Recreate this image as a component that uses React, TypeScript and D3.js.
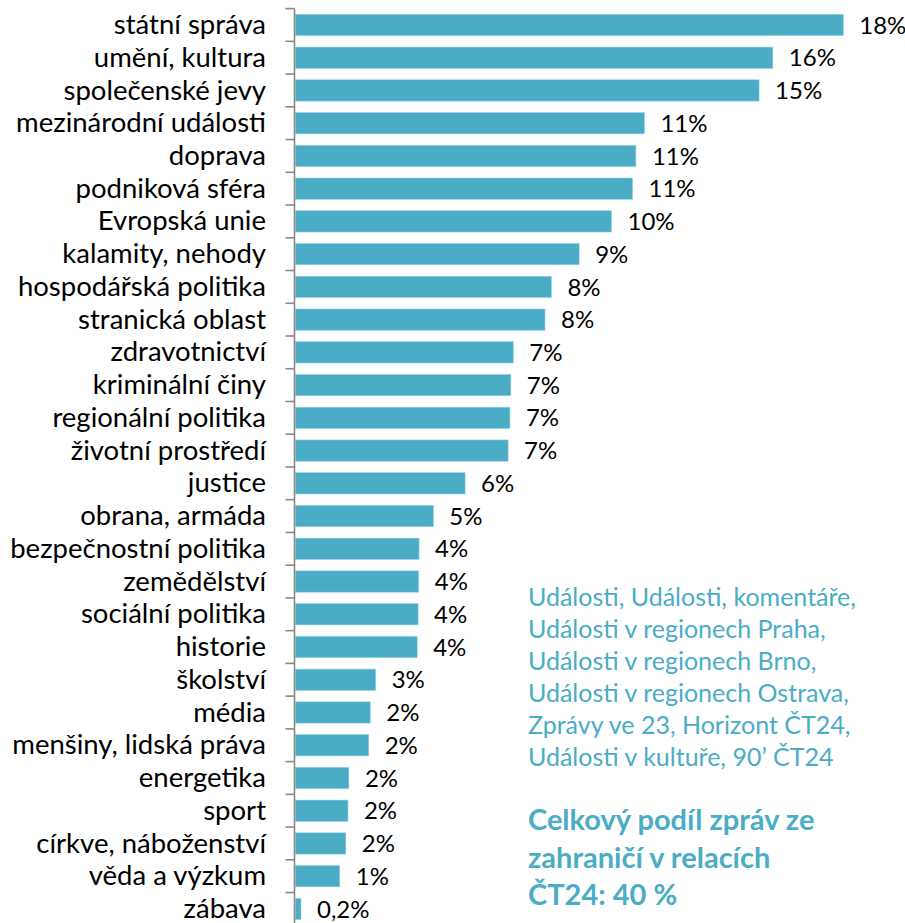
import React, { useEffect, useRef } from 'react';
import * as d3 from 'd3';

// categories, top to bottom
const categories = [
  'státní správa',
  'umění, kultura',
  'společenské jevy',
  'mezinárodní události',
  'doprava',
  'podniková sféra',
  'Evropská unie',
  'kalamity, nehody',
  'hospodářská politika',
  'stranická oblast',
  'zdravotnictví',
  'kriminální činy',
  'regionální politika',
  'životní prostředí',
  'justice',
  'obrana, armáda',
  'bezpečnostní politika',
  'zemědělství',
  'sociální politika',
  'historie',
  'školství',
  'média',
  'menšiny, lidská práva',
  'energetika',
  'sport',
  'církve, náboženství',
  'věda a výzkum',
  'zábava',
];

// share in %
const shares = [
  17.96, 15.65, 15.2, 11.44, 11.16, 11.05, 10.36, 9.3, 8.39, 8.18,
  7.14, 7.06, 7.03, 6.97, 5.56, 4.52, 4.05, 4.04, 4.02, 3.99,
  2.63, 2.45, 2.4, 1.75, 1.72, 1.65, 1.45, 0.18,
];

const programmes = [
  'Události, Události, komentáře,',
  'Události v regionech Praha,',
  'Události v regionech Brno,',
  'Události v regionech Ostrava,',
  'Zprávy ve 23, Horizont ČT24,',
  'Události v kultuře, 90’ ČT24',
];

const summary = ['Celkový podíl zpráv ze', 'zahraničí v relacích', 'ČT24: 40 %'];

const formatShare = (v: number) =>
  v < 1 ? `${v.toFixed(1).replace('.', ',')}%` : `${Math.round(v)}%`;

const App: React.FC = () => {
  const svgRef = useRef<SVGSVGElement>(null);

  useEffect(() => {
    if (!svgRef.current) return;
    const svg = d3.select(svgRef.current);
    svg.selectAll('*').remove();

    const W = 905;
    const H = 923;
    const font = 'Lato, "Open Sans", sans-serif';
    const blue = '#4bacc6';

    svg.attr('width', W).attr('height', H);

    const x = d3.scaleLinear().domain([0, 20]).range([295.5, 905.5]);
    const y = d3
      .scaleBand()
      .domain(categories)
      .range([8.6, 925.3])
      .paddingInner(0.35)
      .paddingOuter(0.175);

    const data = categories.map((c, i) => ({ cat: c, v: shares[i] }));

    // bars
    svg
      .append('g')
      .selectAll('rect')
      .data(data)
      .enter()
      .append('rect')
      .attr('x', x(0))
      .attr('y', d => y(d.cat) || 0)
      .attr('width', d => x(d.v) - x(0))
      .attr('height', y.bandwidth())
      .attr('fill', blue)
      .attr('stroke', '#8fd1e2')
      .attr('stroke-width', 0.6);

    // category axis
    const axis = svg
      .append('g')
      .attr('transform', `translate(294.5,0)`);
    axis
      .append('line')
      .attr('x1', 0)
      .attr('x2', 0)
      .attr('y1', y.range()[0])
      .attr('y2', y.range()[1])
      .attr('stroke', '#888')
      .attr('stroke-width', 1.6);
    const step = y.step();
    axis
      .selectAll('.tick')
      .data(d3.range(categories.length + 1))
      .enter()
      .append('line')
      .attr('x1', -9)
      .attr('x2', 0)
      .attr('y1', i => y.range()[0] + i * step)
      .attr('y2', i => y.range()[0] + i * step)
      .attr('stroke', '#888')
      .attr('stroke-width', 1.6);

    // category labels
    svg
      .append('g')
      .selectAll('text')
      .data(data)
      .enter()
      .append('text')
      .attr('x', 266)
      .attr('y', d => (y(d.cat) || 0) + y.bandwidth() / 2)
      .attr('dy', '0.33em')
      .attr('text-anchor', 'end')
      .style('font-family', font)
      .style('font-size', '27.5px')
      .style('fill', '#000')
      .text(d => d.cat);

    // value labels
    svg
      .append('g')
      .selectAll('text')
      .data(data)
      .enter()
      .append('text')
      .attr('x', d => x(d.v) + 16)
      .attr('y', d => (y(d.cat) || 0) + y.bandwidth() / 2)
      .attr('dy', '0.36em')
      .style('font-family', font)
      .style('font-size', '24px')
      .style('fill', '#000')
      .text(d => formatShare(d.v));

    // note on the right
    svg
      .append('g')
      .selectAll('text')
      .data(programmes)
      .enter()
      .append('text')
      .attr('x', 528)
      .attr('y', (d, i) => 606 + i * 31.9)
      .style('font-family', font)
      .style('font-size', '25px')
      .style('fill', blue)
      .text(d => d);

    svg
      .append('g')
      .selectAll('text')
      .data(summary)
      .enter()
      .append('text')
      .attr('x', 528)
      .attr('y', (d, i) => 830 + i * 37.5)
      .style('font-family', font)
      .style('font-size', '29px')
      .style('font-weight', 'bold')
      .style('fill', blue)
      .text(d => d);
  }, []);

  return (
    <div style={{ position: 'absolute', left: 0, top: 0 }}>
      <svg ref={svgRef} style={{ display: 'block' }}></svg>
    </div>
  );
};

export default App;
